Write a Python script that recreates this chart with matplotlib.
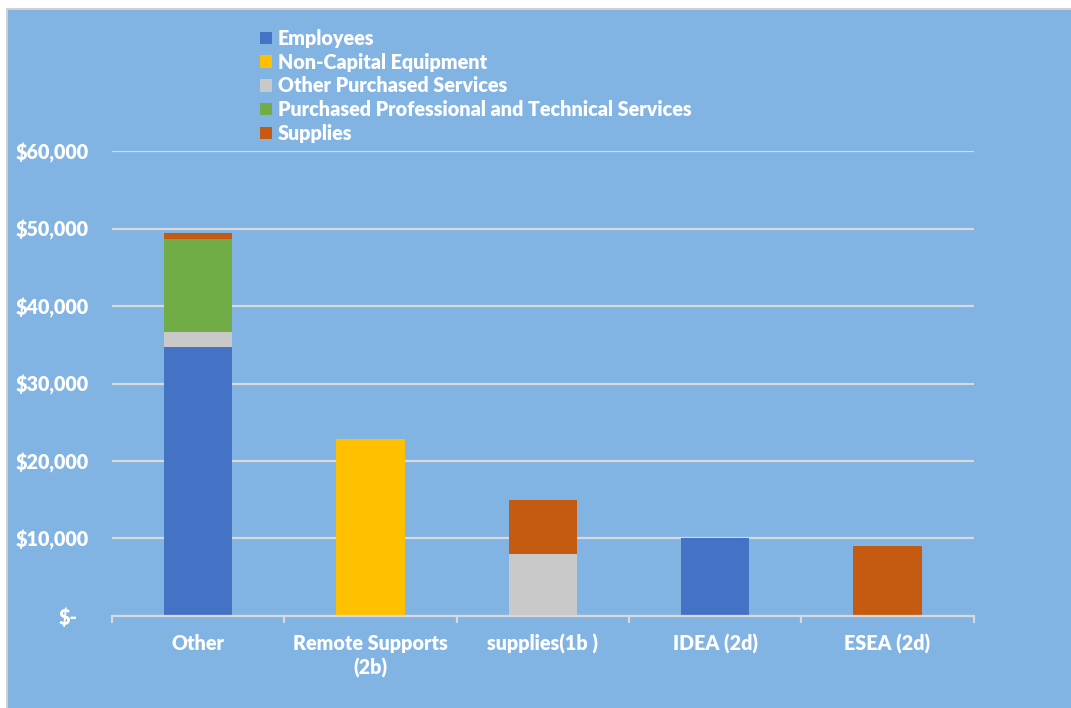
import numpy as np
import matplotlib
matplotlib.use("Agg")
import matplotlib.pyplot as plt
from matplotlib.patches import Patch, Rectangle
from matplotlib.ticker import FuncFormatter

plt.rcParams['font.family'] = ['Lato', 'DejaVu Sans']
plt.rcParams['font.weight'] = 800

categories = ["Other", "Remote Supports\n(2b)", "supplies(1b )", "IDEA (2d)", "ESEA (2d)"]
series = ["Employees", "Non-Capital Equipment", "Other Purchased Services",
          "Purchased Professional and Technical Services", "Supplies"]
employees = [34700, 0, 0, 10000, 0]
non_capital = [0, 22800, 0, 0, 0]
other_purchased = [1900, 0, 8000, 0, 0]
professional = [12070, 0, 0, 0, 0]
supplies = [730, 0, 7000, 0, 9000]
# stacking order bottom -> top
stack = [employees, non_capital, other_purchased, professional, supplies]
colors = ["#4472C4", "#FFC000", "#C9C9C9", "#70AD47", "#C55A11"]

BG = "#81B3E3"
GRID = "#D9D9D9"
FS = 14.2

fig = plt.figure(figsize=(10.71, 7.08), dpi=100)
fig.patch.set_facecolor("white")
fig.patches.append(Rectangle((7 / 1071, -0.01), 1, 1.01 - 9 / 708, transform=fig.transFigure,
                             facecolor=BG, edgecolor="#D0D0D0", linewidth=1.5, zorder=-10))

ax = fig.add_axes([112 / 1071, 1 - 615.7 / 708, 861.7 / 1071, (615.7 - 151.3) / 708])
ax.set_facecolor("none")

x = np.arange(len(categories))
bottom = np.zeros(len(categories))
for name, vals, c in zip(series, stack, colors):
    vals = np.array(vals, dtype=float)
    ax.bar(x, vals, width=0.395, bottom=bottom, color=c, label=name, zorder=3,
           edgecolor="none")
    bottom += vals

ax.set_xlim(-0.5, len(categories) - 0.5)
ax.set_ylim(0, 60000)
ax.set_yticks(np.arange(0, 60001, 10000))
ax.yaxis.set_major_formatter(FuncFormatter(lambda v, p: "$-" if v == 0 else f"${v:,.0f}"))
ax.grid(axis="y", color=GRID, linewidth=1.6, zorder=0)
for s in ["top", "right", "left"]:
    ax.spines[s].set_visible(False)
ax.spines["bottom"].set_color(GRID)
ax.spines["bottom"].set_linewidth(1.6)
ax.spines["bottom"].set_zorder(4)

ax.set_xticks(x)
ax.set_xticklabels(categories, color="white", fontsize=FS, fontweight=800, linespacing=1.3)
ax.set_xticks(np.arange(-0.5, len(categories)), minor=True)
ax.tick_params(axis="x", which="major", length=0, pad=13)
ax.tick_params(axis="x", which="minor", length=5, width=1.6, color=GRID, direction="out")
ax.tick_params(axis="y", length=0, pad=17, labelcolor="white", labelsize=FS)
for t in ax.get_yticklabels():
    t.set_fontweight(800)
# accounting format leaves the dash short of the right edge
ax.get_yticklabels()[0].set_x(-0.013)

handles = [Patch(facecolor=c, edgecolor="none", label=n) for n, c in zip(series, colors)]
leg = fig.legend(handles=handles, loc="upper left", bbox_to_anchor=(250 / 1071, 1 - 19 / 708),
                 frameon=False, fontsize=FS, labelspacing=0.24, handlelength=0.6,
                 handleheight=0.6, handletextpad=0.3, borderpad=0)
for t in leg.get_texts():
    t.set_color("white")
    t.set_fontweight(800)

fig.savefig("out.png", dpi=100)
